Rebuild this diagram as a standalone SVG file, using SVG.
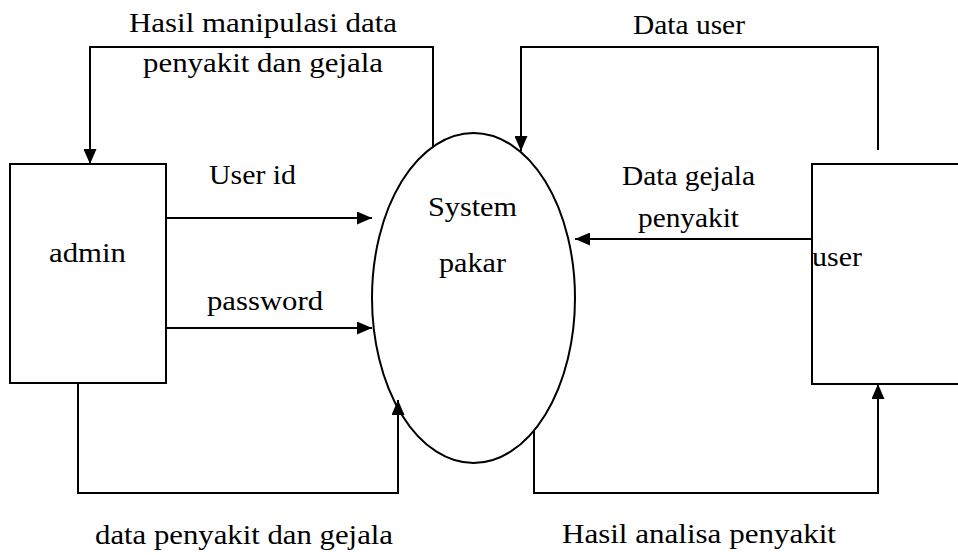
<svg xmlns="http://www.w3.org/2000/svg" width="958" height="555" viewBox="0 0 958 555">
<style>
.ln{fill:none;stroke:#000;stroke-width:2}
.box{fill:#fff;stroke:#000;stroke-width:2}
</style>
<defs>
<marker id="ah" viewBox="0 0 15 13" refX="15" refY="6.5" markerWidth="15" markerHeight="13" markerUnits="userSpaceOnUse" orient="auto">
<path d="M0,0 L15,6.5 L0,13 z" fill="#000"/>
</marker>
</defs>
<rect width="958" height="555" fill="#fff"/>
<g font-family="'Liberation Serif', serif" font-size="28" fill="#000">
<g id="admin">
<rect class="box" x="10" y="164" width="156" height="219"/>
<text x="49" y="262" textLength="77" lengthAdjust="spacingAndGlyphs">admin</text>
</g>
<g id="system">
<ellipse class="box" cx="473.5" cy="298" rx="101.5" ry="165"/>
<text x="428" y="216" textLength="89" lengthAdjust="spacingAndGlyphs">System</text>
<text x="439" y="272" textLength="67" lengthAdjust="spacingAndGlyphs">pakar</text>
</g>
<g id="user">
<rect class="box" x="812" y="164" width="170" height="220"/>
<text x="812" y="266" textLength="50" lengthAdjust="spacingAndGlyphs">user</text>
</g>
<g id="connectors">
<polyline class="ln" points="433,147 433,47 90,47 90,164" marker-end="url(#ah)"/>
<polyline class="ln" points="878,150 878,47 521,47 521,151" marker-end="url(#ah)"/>
<line class="ln" x1="166" y1="218" x2="372" y2="218" marker-end="url(#ah)"/>
<line class="ln" x1="166" y1="328" x2="372" y2="328" marker-end="url(#ah)"/>
<line class="ln" x1="813" y1="239" x2="575" y2="239" marker-end="url(#ah)"/>
<polyline class="ln" points="78,383 78,493 398,493 398,400" marker-end="url(#ah)"/>
<polyline class="ln" points="534,430 534,493 878,493 878,384" marker-end="url(#ah)"/>
</g>
<g id="labels">
<text x="129" y="32" textLength="268" lengthAdjust="spacingAndGlyphs">Hasil manipulasi data</text>
<text x="143" y="72" textLength="240" lengthAdjust="spacingAndGlyphs">penyakit dan gejala</text>
<text x="633" y="34" textLength="112" lengthAdjust="spacingAndGlyphs">Data user</text>
<text x="209" y="184" textLength="87" lengthAdjust="spacingAndGlyphs">User id</text>
<text x="207" y="310" textLength="116" lengthAdjust="spacingAndGlyphs">password</text>
<text x="622" y="185" textLength="133" lengthAdjust="spacingAndGlyphs">Data gejala</text>
<text x="638" y="227" textLength="101" lengthAdjust="spacingAndGlyphs">penyakit</text>
<text x="95" y="544" textLength="298" lengthAdjust="spacingAndGlyphs">data penyakit dan gejala</text>
<text x="562" y="543" textLength="274" lengthAdjust="spacingAndGlyphs">Hasil analisa penyakit</text>
</g>
</g>
</svg>
